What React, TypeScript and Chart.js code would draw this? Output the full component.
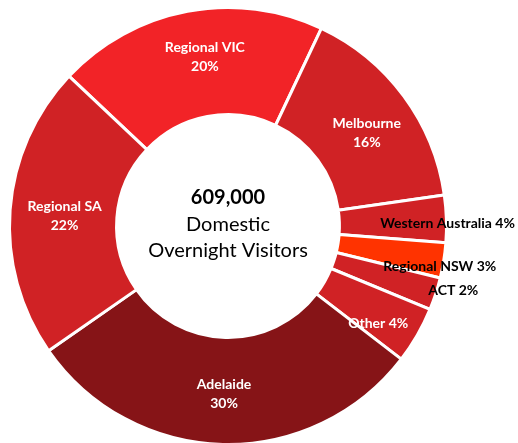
import React, { useEffect, useRef } from "react";
import { Chart, registerables } from "chart.js";

Chart.register(...registerables);

const categories = [
  "Regional VIC",
  "Melbourne",
  "Western Australia",
  "Regional NSW",
  "ACT",
  "Other",
  "Adelaide",
  "Regional SA",
];
const shares = [20, 15.7, 3.5, 2.6, 2.4, 4.2, 29.9, 21.7];
const shownPercent = [20, 16, 4, 3, 2, 4, 30, 22];
const sliceColors = [
  "#F22327",
  "#D02225",
  "#D02225",
  "#FF3300",
  "#D02225",
  "#D02225",
  "#861417",
  "#D02225",
];
const centerTotal = "609,000";
const centerLines = ["Domestic", "Overnight Visitors"];

// label styling: inside two-line labels vs outside one-line labels
const labelMode = ["inside", "inside", "outside", "outside", "outside", "outside", "inside", "inside"];
const labelColor = ["#fff", "#fff", "#000", "#000", "#000", "#fff", "#fff", "#fff"];
const labelRadiusFactor = [0.79, 0.77, 1.005, 0.985, 1.07, 0.815, 0.76, 0.75];
const labelAngleAdjust = [3, 2, 0.7, 1.2, -2.6, 2.5, 0, 0];

const FONT = "Lato, 'Open Sans', sans-serif";

const labelPlugin = {
  id: "sliceLabels",
  afterDatasetsDraw(chart: any) {
    const { ctx } = chart;
    const meta = chart.getDatasetMeta(0);
    ctx.save();
    ctx.textAlign = "center";
    ctx.textBaseline = "middle";
    meta.data.forEach((arc: any, i: number) => {
      const p = arc.getProps(["x", "y", "startAngle", "endAngle", "outerRadius"], true);
      const mid = (p.startAngle + p.endAngle) / 2 + (labelAngleAdjust[i] * Math.PI) / 180;
      const r = p.outerRadius * labelRadiusFactor[i];
      const x = p.x + Math.cos(mid) * r;
      const y = p.y + Math.sin(mid) * r + 2;
      ctx.fillStyle = labelColor[i];
      ctx.font = `bold 14px ${FONT}`;
      if (labelMode[i] === "inside") {
        ctx.fillText(categories[i], x, y - 9.5);
        ctx.fillText(shownPercent[i] + "%", x, y + 9.5);
      } else {
        ctx.fillText(categories[i] + " " + shownPercent[i] + "%", x, y);
      }
    });
    // center text
    const cx = meta.data[0].x;
    const cy = meta.data[0].y;
    ctx.fillStyle = "#000";
    ctx.font = `bold 20px ${FONT}`;
    ctx.fillText(centerTotal, cx, cy - 28);
    ctx.font = `20px ${FONT}`;
    ctx.fillText(centerLines[0], cx, cy - 1);
    ctx.fillText(centerLines[1], cx, cy + 25);
    ctx.restore();
  },
};

export default function App() {
  const ref = useRef<HTMLCanvasElement | null>(null);
  useEffect(() => {
    if (!ref.current) return;
    const chart = new Chart(ref.current, {
      type: "doughnut",
      data: {
        labels: categories,
        datasets: [
          {
            data: shares,
            backgroundColor: sliceColors,
            borderColor: "#ffffff",
            borderWidth: 3,
            hoverOffset: 0,
          },
        ],
      },
      options: {
        responsive: false,
        animation: false,
        devicePixelRatio: 1,
        rotation: -46.7,
        cutout: "51%",
        layout: { padding: { left: 8, right: 70, top: 6, bottom: 14 } },
        plugins: {
          legend: { display: false },
          tooltip: { enabled: false },
        },
      } as any,
      plugins: [labelPlugin],
    });
    return () => chart.destroy();
  }, []);
  return (
    <div
      style={{
        position: "fixed",
        left: 0,
        top: 0,
        width: 518,
        height: 443,
        overflow: "hidden",
        background: "#fff",
      }}
    >
      <canvas ref={ref} width={518} height={460} style={{ display: "block" }} />
    </div>
  );
}
